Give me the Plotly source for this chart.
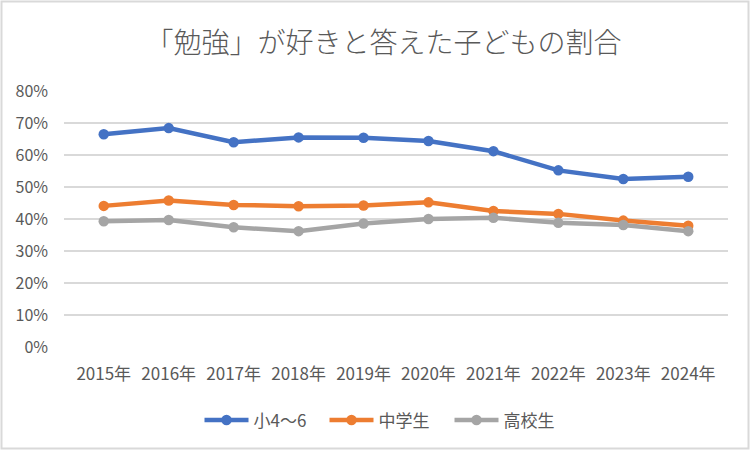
import plotly.graph_objects as go

years = ["2015年", "2016年", "2017年", "2018年", "2019年",
         "2020年", "2021年", "2022年", "2023年", "2024年"]
elem = [0.665, 0.684, 0.640, 0.655, 0.654, 0.644, 0.612, 0.552, 0.525, 0.532]
junior = [0.441, 0.458, 0.444, 0.440, 0.442, 0.452, 0.425, 0.416, 0.395, 0.379]
high = [0.393, 0.397, 0.374, 0.362, 0.386, 0.400, 0.404, 0.388, 0.381, 0.362]
names = ["小4～6", "中学生", "高校生"]
colors = ["#4472C4", "#ED7D31", "#A5A5A5"]

font = "Noto Sans CJK JP"
W, H = 752, 452
ml, mr, mt, mb = 64, 24, 91, 105

fig = go.Figure()
for name, vals, c in zip(names, [elem, junior, high], colors):
    fig.add_trace(go.Scatter(x=years, y=vals, name=name, mode="lines+markers",
                             line=dict(color=c, width=4.5),
                             marker=dict(color=c, size=10.5)))

# outer chart border
pw, ph = W - ml - mr, H - mt - mb
fig.add_shape(type="rect", xref="paper", yref="paper",
              x0=(-ml + 1.5) / pw, x1=(pw + mr - 3.5) / pw,
              y0=(-mb + 3.5) / ph, y1=(ph + mt - 1.5) / ph,
              line=dict(color="#D9D9D9", width=2))

fig.update_layout(
    width=W, height=H,
    margin=dict(l=ml, r=mr, t=mt, b=mb),
    paper_bgcolor="white", plot_bgcolor="white",
    font=dict(family=font, color="#595959", size=16),
    title=dict(text="「勉強」が好きと答えた子どもの割合", x=383.5 / W, xanchor="center",
               y=1 - 43 / H, yanchor="middle",
               font=dict(size=28, color="#595959", weight=300)),
    xaxis=dict(showgrid=False, showline=False, ticks="", ticklabelstandoff=15,
               tickfont=dict(size=17)),
    yaxis=dict(range=[0, 0.8], dtick=0.1, tickformat=".0%", gridcolor="#D9D9D9",
               gridwidth=1.5, zeroline=False, showline=False, ticklabelstandoff=15,
               tickfont=dict(size=16)),
    legend=dict(orientation="h", x=0.5 - 9 / pw, xanchor="center", y=-(420.5 - 347) / ph,
                yanchor="middle", font=dict(size=17), itemwidth=44,
                entrywidth=66, entrywidthmode="pixels"),
    showlegend=True,
)

fig.write_html("out.html", config={"displayModeBar": False},
               post_script="document.body.style.margin='0';")
